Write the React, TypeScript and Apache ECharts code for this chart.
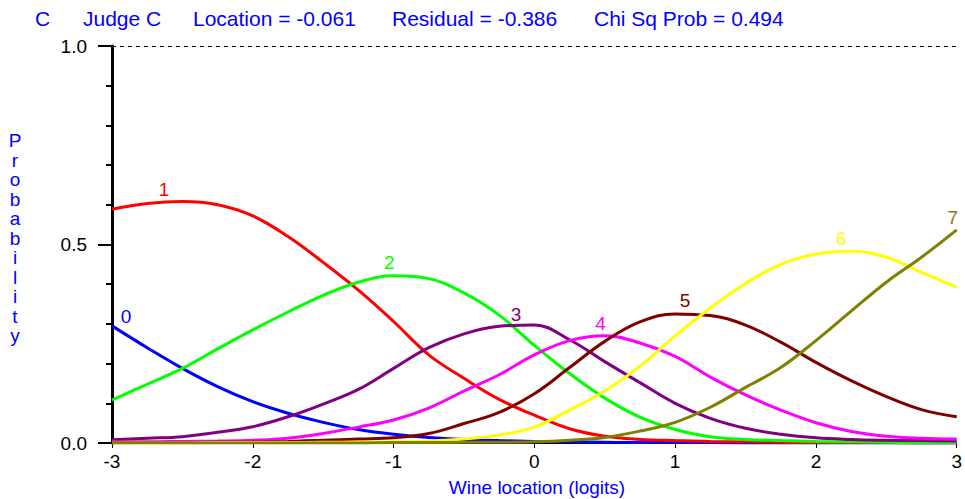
import React, { useEffect, useRef } from "react";
import * as echarts from "echarts";

const xValues = [-3, -2.75, -2.5, -2.25, -2, -1.75, -1.5, -1.25, -1, -0.75, -0.5, -0.25, 0, 0.25, 0.5, 0.75, 1, 1.25, 1.5, 1.75, 2, 2.25, 2.5, 2.75, 3];

const cat0 = [0.295, 0.24, 0.188, 0.142, 0.104, 0.075, 0.052, 0.034, 0.022, 0.014, 0.009, 0.006, 0.004, 0.003, 0.002, 0.001, 0.001, 0.001, 0, 0, 0, 0, 0, 0, 0];
const cat1 = [0.589, 0.603, 0.608, 0.6, 0.572, 0.52, 0.455, 0.385, 0.306, 0.222, 0.163, 0.11, 0.07, 0.036, 0.017, 0.009, 0.006, 0.004, 0.003, 0.002, 0.001, 0.001, 0.001, 0, 0];
const cat2 = [0.108, 0.148, 0.188, 0.237, 0.285, 0.33, 0.372, 0.405, 0.421, 0.414, 0.378, 0.322, 0.246, 0.175, 0.113, 0.065, 0.034, 0.016, 0.009, 0.006, 0.004, 0.003, 0.002, 0.001, 0.001];
const cat3 = [0.008, 0.012, 0.016, 0.027, 0.041, 0.066, 0.098, 0.135, 0.188, 0.24, 0.275, 0.294, 0.297, 0.26, 0.205, 0.152, 0.1, 0.062, 0.037, 0.022, 0.013, 0.009, 0.007, 0.006, 0.005];
const cat4 = [0.003, 0.003, 0.004, 0.005, 0.007, 0.012, 0.024, 0.04, 0.058, 0.088, 0.131, 0.172, 0.222, 0.258, 0.27, 0.252, 0.218, 0.166, 0.121, 0.083, 0.051, 0.029, 0.017, 0.012, 0.01];
const cat5 = [0.001, 0.001, 0.001, 0.002, 0.002, 0.004, 0.007, 0.01, 0.013, 0.024, 0.049, 0.077, 0.124, 0.19, 0.256, 0.305, 0.325, 0.321, 0.297, 0.254, 0.203, 0.157, 0.117, 0.084, 0.066];
const cat6 = [0, 0, 0, 0.001, 0.001, 0.001, 0.002, 0.002, 0.003, 0.005, 0.01, 0.02, 0.04, 0.083, 0.131, 0.193, 0.27, 0.34, 0.402, 0.45, 0.476, 0.483, 0.468, 0.43, 0.392];
const cat7 = [0, 0, 0, 0, 0, 0, 0, 0, 0.001, 0.001, 0.002, 0.002, 0.003, 0.007, 0.014, 0.03, 0.052, 0.09, 0.14, 0.19, 0.258, 0.332, 0.405, 0.468, 0.537];

const categoryNames = ["0", "1", "2", "3", "4", "5", "6", "7"];
const categoryColors = ["#0000ff", "#ff0000", "#00ff00", "#800080", "#ff00ff", "#800000", "#ffff00", "#808000"];
const categoryLabelAt: [number, number][] = [
  [-2.9, 0.29],
  [-2.63, 0.61],
  [-1.03, 0.425],
  [-0.13, 0.295],
  [0.47, 0.272],
  [1.07, 0.33],
  [2.18, 0.486],
  [3.0, 0.54],
];

const titleParts = ["C", "Judge C", "Location = -0.061", "Residual = -0.386", "Chi Sq Prob = 0.494"];
const titleX = [35, 83, 193, 392, 594];

const yTickLabels: Record<string, string> = { "0": "0.0", "0.5": "0.5", "1": "1.0" };

export default function App() {
  const ref = useRef<HTMLDivElement>(null);
  useEffect(() => {
    document.body.style.margin = "0";
    if (!ref.current) return;
    const chart = echarts.init(ref.current, null, { renderer: "svg" });
    const allSeries = [cat0, cat1, cat2, cat3, cat4, cat5, cat6, cat7];
    const font = "'Liberation Sans', Arial, sans-serif";
    const series: any[] = allSeries.map((vals, i) => ({
      type: "line",
      name: categoryNames[i],
      data: xValues.map((x, j) => [x, vals[j]]),
      smooth: 0.4,
      showSymbol: false,
      symbol: "none",
      lineStyle: { color: categoryColors[i], width: 3 },
      z: 3 + i,
      markPoint: {
        symbol: "circle",
        symbolSize: 0,
        data: [{ coord: categoryLabelAt[i] }],
        label: {
          show: true,
          position: "top",
          distance: 2,
          offset: i === 7 ? [-4, 0] : [0, 0],
          formatter: categoryNames[i],
          color: categoryColors[i],
          fontSize: 19,
          fontFamily: font,
        },
      },
    }));
    series[0].markLine = {
      silent: true,
      symbol: "none",
      label: { show: false },
      lineStyle: { color: "#000", type: [4, 4], width: 1 },
      data: [{ yAxis: 1 }],
    };
    const graphic: any[] = titleParts.map((t, i) => ({
      type: "text",
      x: titleX[i],
      y: 18,
      style: { text: t, fill: "#0000ff", fontSize: 21, fontFamily: font, verticalAlign: "middle" },
    }));
    graphic.push({
      type: "text",
      x: 537,
      y: 487,
      style: { text: "Wine location (logits)", fill: "#0000ff", fontSize: 19, fontFamily: font, align: "center", verticalAlign: "middle" },
    });
    graphic.push({
      type: "text",
      x: 15,
      y: 131,
      style: {
        text: "Probability".split("").join("\n"),
        fill: "#0000ff",
        fontSize: 19,
        lineHeight: 19.5,
        fontFamily: font,
        align: "center",
        verticalAlign: "top",
      },
    });
    chart.setOption({
      animation: false,
      backgroundColor: "#fff",
      grid: { left: 112, right: 2, top: 46, bottom: 56, containLabel: false },
      xAxis: {
        type: "value",
        min: -3,
        max: 3,
        interval: 1,
        axisLine: { show: true, onZero: false, lineStyle: { color: "#000", width: 1 } },
        axisTick: { show: true, length: 5, lineStyle: { color: "#000", width: 1 } },
        axisLabel: { color: "#000", fontSize: 19, fontFamily: font, margin: 9 },
        splitLine: { show: false },
      },
      yAxis: {
        type: "value",
        min: 0,
        max: 1,
        interval: 0.5,
        axisLine: { show: true, onZero: false, lineStyle: { color: "#000", width: 3 } },
        axisTick: { show: true, length: 14, lineStyle: { color: "#000", width: 2 } },
        minorTick: { show: true, splitNumber: 5, length: 6, lineStyle: { color: "#000", width: 2 } },
        axisLabel: {
          color: "#000",
          fontSize: 19,
          fontFamily: font,
          margin: 25,
          formatter: (v: number) => yTickLabels[String(v)] ?? String(v),
        },
        splitLine: { show: false },
      },
      graphic,
      series,
    });
    return () => chart.dispose();
  }, []);
  return <div ref={ref} style={{ width: 965, height: 499 }} />;
}
